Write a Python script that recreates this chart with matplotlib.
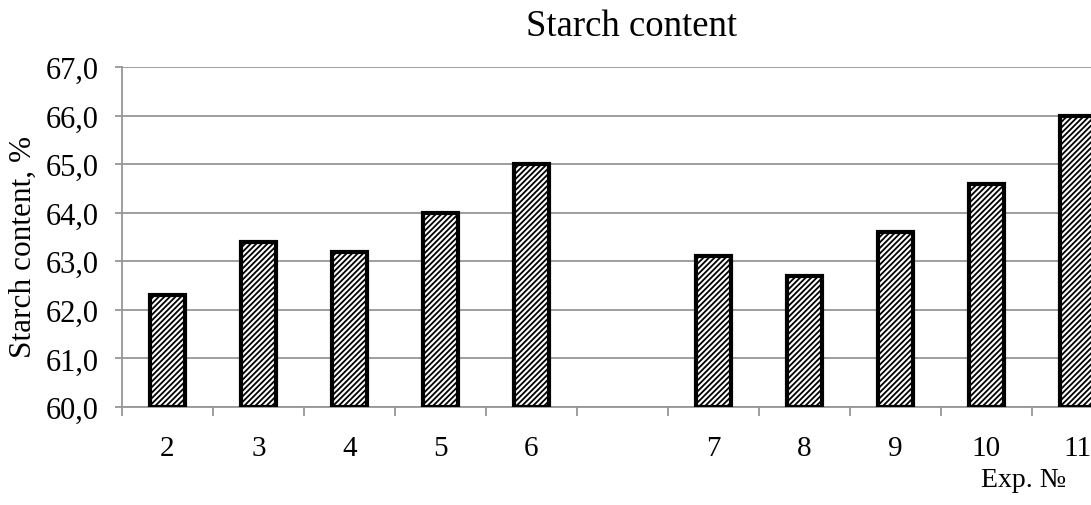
import matplotlib.pyplot as plt
import numpy as np

# Data
exp_labels = ["2", "3", "4", "5", "6", "", "7", "8", "9", "10", "11"]
starch = [62.3, 63.4, 63.2, 64.0, 65.0, np.nan, 63.1, 62.7, 63.6, 64.6, 66.0]
y_ticks = [60, 61, 62, 63, 64, 65, 66, 67]

plt.rcParams.update({
    "font.family": "Liberation Serif",
    "hatch.linewidth": 1.3,
    "hatch.color": "black",
})

fig = plt.figure(figsize=(10.91, 5.06), dpi=100)
W, H = 1091, 506
ax = fig.add_axes([122 / W, (H - 408) / H, (W - 122) / W, (408 - 68) / H])

pos = np.arange(len(exp_labels))
vals = np.array(starch)
mask = ~np.isnan(vals)
ax.bar(pos[mask], vals[mask] - 60, bottom=60, width=0.38,
       color="white", edgecolor="black", linewidth=3, hatch="//////", zorder=3)

ax.set_yticks(y_ticks)
ax.set_yticklabels([f"{t:.1f}".replace(".", ",") for t in y_ticks])
ax.grid(axis="y", color="#969696", linewidth=1.3, zorder=0)

# category labels between boundary ticks
shown = [i for i, l in enumerate(exp_labels) if l]
ax.set_xticks([pos[i] for i in shown])
ax.set_xticklabels([exp_labels[i] for i in shown])
ax.set_xticks(np.arange(-0.5, 10.6, 1.0), minor=True)
ax.tick_params(axis="x", which="major", length=0, pad=20, labelsize=21)
ax.tick_params(axis="x", which="minor", length=6.5, width=1.3, color="#969696")
ax.tick_params(axis="y", length=5, width=1.3, color="#969696", pad=12, labelsize=22)
ax.set_ylim(60, 67)
ax.set_xlim(-0.5, 10.15)

for s in ["top", "right"]:
    ax.spines[s].set_visible(False)
for s in ["left", "bottom"]:
    ax.spines[s].set_color("#969696")
    ax.spines[s].set_linewidth(1.3)

fig.text(632 / W, 1 - 27 / H, "Starch content", ha="center", va="center", fontsize=26.5)
fig.text(23 / W, 1 - 247 / H, "Starch content, %", ha="center", va="center",
         rotation=90, fontsize=22.5)
fig.text(1024 / W, 1 - 481 / H, "Exp. №", ha="center", va="center", fontsize=20)

plt.savefig("out.png", dpi=100)
